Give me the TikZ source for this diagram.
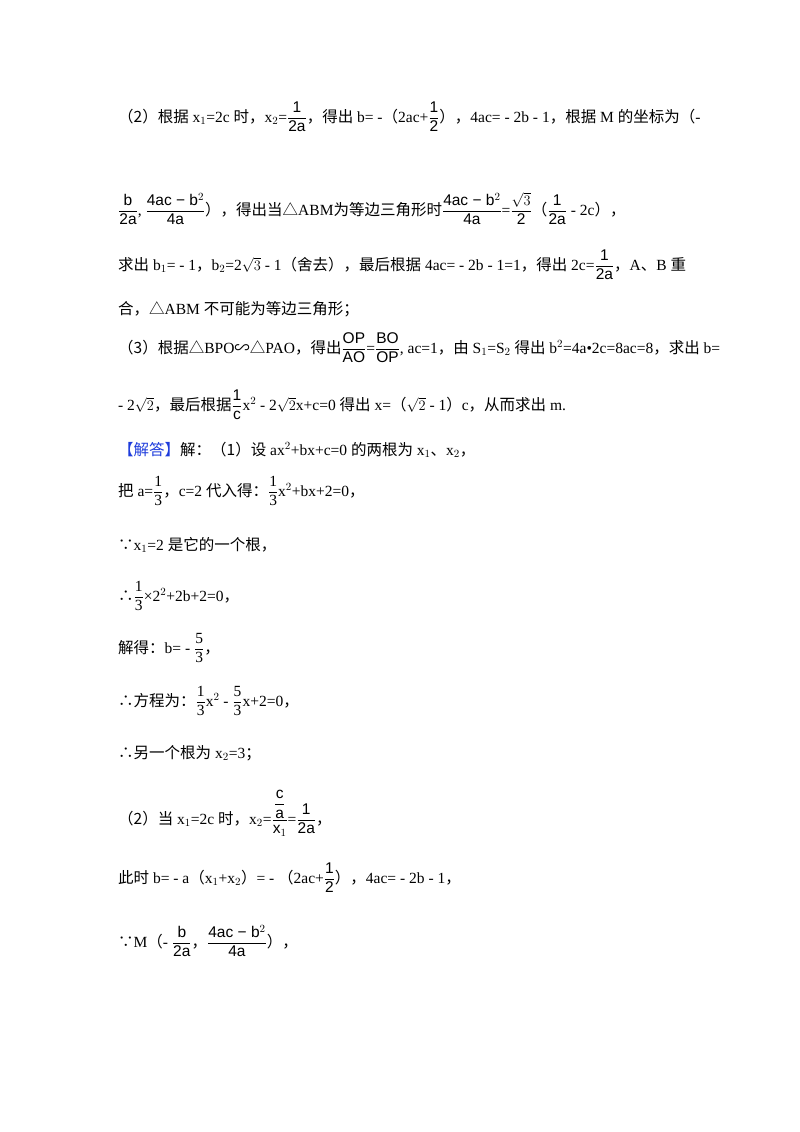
\documentclass[tikz,border=0pt]{standalone}
\usepackage{amsmath}
\usepackage{fontspec}
\setmainfont{Liberation Serif}
\newfontfamily\cjk{Noto Sans CJK SC}
\newfontfamily\fsans{Liberation Sans}
\newcommand{\zh}[1]{{\cjk #1}}
\newcommand{\fr}[2]{$\dfrac{\text{\fsans #1}}{\text{\fsans #2}}$}
\newcommand{\frs}[2]{$\dfrac{\text{#1}}{\text{#2}}$}
\definecolor{jblue}{RGB}{30,60,220}
\begin{document}
\begin{tikzpicture}[x=1pt,y=-1pt,
  ln/.style={anchor=base west,inner sep=0pt,font=\fontsize{15.5}{18}\selectfont}]
\useasboundingbox (0,0) rectangle (800,1132);
\fill[white] (0,0) rectangle (800,1132);
\node[ln] (l1) at (118,122) {\zh{（2）根据} x$_1$=2c \zh{时，}x$_2$=\fr{1}{2a}\zh{，得出} b= -\zh{（}2ac+\fr{1}{2}\zh{），}4ac= - 2b - 1\zh{，根据} M \zh{的坐标为（}-};
\node[ln] (l2) at (118,215) {\fr{b}{2a}, \fr{4ac − b$^2$}{4a}\zh{），得出当△}ABM\zh{为等边三角形时}\fr{4ac − b$^2$}{4a}=\fr{$\sqrt{3}$}{2}\zh{（}\fr{1}{2a} - 2c\zh{），}};
\node[ln] (l3) at (118,270) {\zh{求出} b$_1$= - 1\zh{，}b$_2$=2$\sqrt{3}$ - 1\zh{（舍去），最后根据} 4ac= - 2b - 1=1\zh{，得出} 2c=\fr{1}{2a}\zh{，}A\zh{、}B \zh{重}};
\node[ln] (l4) at (118,314) {\zh{合，△}ABM \zh{不可能为等边三角形；}};
\node[ln] (l5) at (118,353) {\zh{（3）根据△}BPO\zh{∽△}PAO\zh{，得出}\fr{OP}{AO}=\fr{BO}{OP}, ac=1\zh{，由} S$_1$=S$_2$ \zh{得出} b$^2$=4a•2c=8ac=8\zh{，求出} b=};
\node[ln] (l6) at (118,410) {- 2$\sqrt{2}$\zh{，最后根据}\fr{1}{c}x$^2$ - 2$\sqrt{2}$x+c=0 \zh{得出} x=\zh{（}$\sqrt{2}$ - 1\zh{）}c\zh{，从而求出} m.};
\node[ln] (l7) at (118,455) {\textcolor{jblue}{\zh{【解答】}}\zh{解：（1）设} ax$^2$+bx+c=0 \zh{的两根为} x$_1$\zh{、}x$_2$\zh{，}};
\node[ln] (l8) at (118,496) {\zh{把} a=\frs{1}{3}\zh{，}c=2 \zh{代入得：}\frs{1}{3}x$^2$+bx+2=0\zh{，}};
\node[ln] (l9) at (118,550) {\zh{∵}x$_1$=2 \zh{是它的一个根，}};
\node[ln] (l10) at (118,601) {\zh{∴}\frs{1}{3}×2$^2$+2b+2=0\zh{，}};
\node[ln] (l11) at (118,653) {\zh{解得：}b= - \frs{5}{3}\zh{，}};
\node[ln] (l12) at (118,706) {\zh{∴方程为：}\frs{1}{3}x$^2$ - \frs{5}{3}x+2=0\zh{，}};
\node[ln] (l13) at (118,758) {\zh{∴另一个根为} x$_2$=3\zh{；}};
\node[ln] (l14) at (118,824) {\zh{（2）当} x$_1$=2c \zh{时，}x$_2$=$\dfrac{\dfrac{\text{\fsans c}}{\text{\fsans a}}}{\text{\fsans x}_1}$=\fr{1}{2a}\zh{，}};
\node[ln] (l15) at (118,883) {\zh{此时} b= - a\zh{（}x$_1$+x$_2$\zh{）}= - \zh{（}2ac+\fr{1}{2}\zh{），}4ac= - 2b - 1\zh{，}};
\node[ln] (l16) at (118,947) {\zh{∵}M\zh{（}- \fr{b}{2a}\zh{，}\fr{4ac − b$^2$}{4a}\zh{），}};
\end{tikzpicture}
\end{document}
